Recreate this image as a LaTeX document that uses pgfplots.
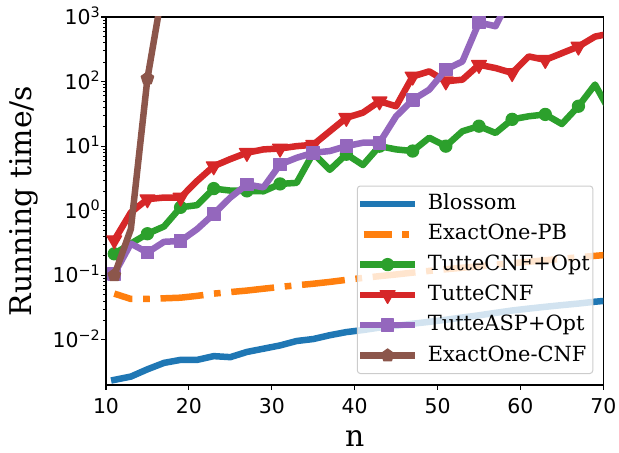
\documentclass[border=0pt]{standalone}
\usepackage{fontspec}
\setmainfont{DejaVu Serif}
\newfontfamily\tickfont{DejaVu Sans}
\usepackage{pgfplots}
\pgfplotsset{compat=1.18}

\definecolor{c0}{HTML}{1F77B4}
\definecolor{c1}{HTML}{FF7F0E}
\definecolor{c2}{HTML}{2CA02C}
\definecolor{c3}{HTML}{D62728}
\definecolor{c4}{HTML}{9467BD}
\definecolor{c5}{HTML}{8C564B}

% 10^k in the tick font
\newcommand{\pw}[1]{10\raisebox{0.36em}{\fontsize{14.4}{14.4}\selectfont #1}}

\pgfplotsset{
  series/.style={line width=6.5bp, line join=round, line cap=rect},
  marked/.style={mark repeat=2, mark phase=1,
    mark options={solid, line width=1.3bp, fill=#1, draw=#1}},
}

\begin{document}
\begin{tikzpicture}
\begin{axis}[
    name=ax,
    scale only axis,
    width=497.3bp, height=368bp,
    ymode=log,
    xmin=10, xmax=70,
    ymin=0.002, ymax=1000,
    clip marker paths=true,
    tick align=outside,
    tick pos=left,
    major tick length=4.7bp,
    minor tick length=2.7bp,
    every major tick/.append style={line width=1.07bp, black},
    every minor tick/.append style={line width=0.8bp, black},
    axis line style={line width=1.07bp},
    xtick={10,20,30,40,50,60,70},
    xticklabels={10,20,30,40,50,60,70},
    ytick={0.01,0.1,1,10,100,1000},
    yticklabels={\pw{−2},\pw{−1},\pw{0},\pw{1},\pw{2},\pw{3}},
    tick label style={font=\tickfont\fontsize{20.5}{20.5}\selectfont, inner sep=0pt},
    xticklabel style={anchor=base, yshift=-23.6bp},
    yticklabel style={anchor=base east, xshift=-1.3bp, yshift=-7.5bp},
    xlabel={n},
    ylabel={Running time/s},
    label style={font=\fontsize{30}{30}\selectfont, inner sep=0pt},
    xlabel style={at={(axis description cs:0.5,0)}, anchor=base, yshift=-61.7bp},
    ylabel style={at={(axis description cs:0,0.5)}, anchor=base, yshift=74.3bp},
    legend cell align=left,
    legend image code/.code={
      \draw[#1, mark repeat=2, mark phase=2, fill opacity=1, draw opacity=1]
        plot coordinates {(0bp,0bp) (24bp,0bp) (48bp,0bp)};},
    legend style={at={(1,0)}, anchor=south east, xshift=-10bp, yshift=11bp,
      fill=white, fill opacity=0.8, draw opacity=1, text opacity=1,
      draw=black!20, line width=1bp, rounded corners=3bp,
      font=\fontsize{21}{21}\selectfont,
      inner xsep=3bp, inner ysep=8bp, row sep=10.3bp,
      nodes={inner sep=0pt, text height=15.5bp, text depth=4.5bp},
      /tikz/every odd column/.append style={column sep=13bp}},
]

% Blossom
\addplot[series, c0] coordinates {
 (11,0.0024) (13,0.0027) (15,0.0035) (17,0.0044) (19,0.0049) (21,0.0049)
 (23,0.0056) (25,0.0054) (27,0.0065) (29,0.0073) (31,0.0082) (33,0.0096)
 (35,0.0103) (37,0.0118) (39,0.0132) (41,0.0142) (43,0.0155) (45,0.0165)
 (47,0.0178) (49,0.0190) (51,0.0205) (53,0.0222) (55,0.0240) (57,0.0262)
 (59,0.0285) (61,0.0305) (63,0.0325) (65,0.0345) (67,0.0365) (69,0.0390)
 (71,0.0410)
};
\addlegendentry{Blossom}

% ExactOne-PB
\addplot[series, c1, line cap=butt,
    dash pattern=on 43bp off 10.7bp on 6.7bp off 10.7bp, dash phase=24bp,
    legend image post style={dash phase=15bp}] coordinates {
 (11,0.052) (13,0.043) (15,0.043) (17,0.044) (19,0.045) (21,0.048)
 (23,0.052) (25,0.055) (27,0.058) (29,0.062) (31,0.066) (33,0.070)
 (35,0.074) (37,0.079) (39,0.085) (41,0.091) (43,0.097) (45,0.103)
 (47,0.110) (49,0.117) (51,0.124) (53,0.131) (55,0.138) (57,0.146)
 (59,0.154) (61,0.162) (63,0.171) (65,0.180) (67,0.190) (69,0.200)
 (71,0.210)
};
\addlegendentry{ExactOne-PB}

% TutteCNF+Opt
\addplot[series, c2, marked=c2, mark=*, mark size=6bp] coordinates {
 (11,0.215) (13,0.31) (15,0.44) (17,0.57) (19,1.13) (21,1.22)
 (23,2.2) (25,2.05) (27,2.03) (29,2.0) (31,2.6) (33,2.7)
 (35,7.8) (37,4.3) (39,7.5) (41,5.1) (43,10.0) (45,8.9)
 (47,8.4) (49,13.5) (51,10.0) (53,17) (55,20.4) (57,16)
 (59,26) (61,29) (63,31) (65,22) (67,41.5) (69,90)
 (71,31)
};
\addlegendentry{TutteCNF+Opt}

% TutteCNF
\addplot[series, c3, marked=c3, mark=triangle*, mark size=8.5bp,
    every mark/.append style={rotate=180}] coordinates {
 (11,0.35) (13,0.94) (15,1.51) (17,1.6) (19,1.6) (21,2.9)
 (23,4.9) (25,6.3) (27,7.9) (29,8.9) (31,9.2) (33,10.0)
 (35,10.5) (37,17) (39,27.5) (41,33) (43,49.5) (45,41.5)
 (47,120) (49,144) (51,101) (53,107) (55,182) (57,162)
 (59,136) (61,245) (63,217) (65,275) (67,349) (69,497)
 (71,560)
};
\addlegendentry{TutteCNF}

% TutteASP+Opt
\addplot[series, c4, marked=c4, mark=square*, mark size=6.2bp] coordinates {
 (11,0.105) (13,0.31) (15,0.225) (17,0.33) (19,0.34) (21,0.52)
 (23,0.89) (25,1.6) (27,2.55) (29,2.3) (31,5.2) (33,6.6)
 (35,7.9) (37,8.4) (39,10.0) (41,11.3) (43,11.3) (45,29)
 (47,52) (49,75) (51,153) (53,205) (55,820) (57,720)
 (59,2300) (61,4000)
};
\addlegendentry{TutteASP+Opt}

% ExactOne-CNF
\addplot[series, c5, marked=c5, mark=pentagon*, mark size=6.5bp] coordinates {
 (11,0.1) (13,0.52) (15,112) (17,3500)
};
\addlegendentry{ExactOne-CNF}

\end{axis}
\pgfresetboundingbox
\path ([shift={(-106bp,-68bp)}]ax.south west) rectangle ([shift={(15.7bp,17bp)}]ax.north east);
\end{tikzpicture}
\end{document}
